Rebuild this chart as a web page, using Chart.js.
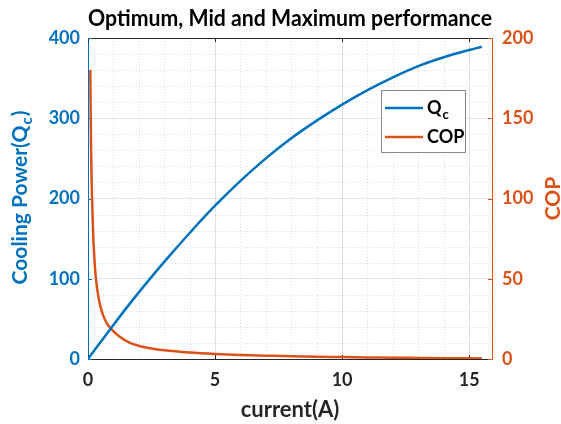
<!DOCTYPE html>
<html>
<head>
<meta charset="utf-8">
<script src="https://cdn.jsdelivr.net/npm/chart.js@4.4.1/dist/chart.umd.min.js"></script>
<style>
  html, body { margin: 0; padding: 0; background: #fff; }
</style>
</head>
<body>
<canvas id="perf" width="561" height="424"></canvas>
<script>
// values
const currentQc = [0, 1, 2, 3, 4, 5, 6, 7, 8, 9, 10, 11, 12, 13, 14, 15, 15.5];
const qcValues = [0, 42.5, 83, 121, 157, 191, 222, 250, 275, 297, 317, 335, 351, 365, 376, 385, 389];

const currentCop = [0.09, 0.12, 0.16, 0.2, 0.25, 0.3, 0.4, 0.5, 0.6, 0.75, 0.93, 1.25, 1.65, 2, 2.5, 3, 4, 5, 6, 7, 8, 9, 10, 11, 12, 13, 14, 15, 15.5];
const copValues = [180, 132, 100, 79, 63, 52, 39.5, 32, 27, 22, 18.5, 13.8, 10, 8.2, 6.5, 5.4, 4, 3.1, 2.5, 2.1, 1.7, 1.4, 1.2, 1.0, 0.8, 0.65, 0.5, 0.4, 0.35];

const xTicks = [0, 5, 10, 15];
const qcTicks = [0, 100, 200, 300, 400];
const copTicks = [0, 50, 100, 150, 200];

const BLUE = '#0072BD';
const ORANGE = '#D95319';
const DARK = '#262626';
const FONT = 'Lato';

const xMinorStep = 1;
const yMinorStep = 20;

function toPoints(xs, ys) {
  return xs.map((x, i) => ({x: x, y: ys[i]}));
}

function setTicks(list) {
  return function(scale) {
    scale.ticks = list.map(v => ({value: v}));
  };
}

// minor dotted grid, top box line, inward tick marks
const gridExtras = {
  id: 'gridExtras',
  beforeDatasetsDraw(chart) {
    const {ctx, chartArea: a, scales} = chart;
    const x = scales.x, y = scales.y, y1 = scales.y1;
    ctx.save();
    ctx.lineWidth = 1;
    ctx.setLineDash([1, 2]);
    ctx.strokeStyle = 'rgba(38,38,38,0.16)';
    for (let v = x.min; v <= x.max; v += xMinorStep) {
      if (xTicks.includes(v)) continue;
      const px = Math.round(x.getPixelForValue(v)) + 0.5;
      ctx.beginPath(); ctx.moveTo(px, a.top); ctx.lineTo(px, a.bottom); ctx.stroke();
    }
    ctx.strokeStyle = 'rgba(0,114,189,0.18)';
    for (let v = y.min; v <= y.max; v += yMinorStep) {
      if (qcTicks.includes(v)) continue;
      const py = Math.round(y.getPixelForValue(v)) + 0.5;
      ctx.beginPath(); ctx.moveTo(a.left, py); ctx.lineTo(a.right, py); ctx.stroke();
    }
    ctx.setLineDash([]);
    // top edge of the box
    ctx.strokeStyle = DARK;
    ctx.beginPath(); ctx.moveTo(a.left, a.top + 0.5); ctx.lineTo(a.right, a.top + 0.5); ctx.stroke();
    // tick marks pointing inward
    const len = 4;
    xTicks.forEach(v => {
      const px = Math.round(x.getPixelForValue(v)) + 0.5;
      ctx.beginPath();
      ctx.moveTo(px, a.bottom); ctx.lineTo(px, a.bottom - len);
      ctx.moveTo(px, a.top); ctx.lineTo(px, a.top + len);
      ctx.stroke();
    });
    ctx.strokeStyle = BLUE;
    qcTicks.forEach(v => {
      const py = Math.round(y.getPixelForValue(v)) + 0.5;
      ctx.beginPath(); ctx.moveTo(a.left, py); ctx.lineTo(a.left + len, py); ctx.stroke();
    });
    ctx.strokeStyle = ORANGE;
    copTicks.forEach(v => {
      const py = Math.round(y1.getPixelForValue(v)) + 0.5;
      ctx.beginPath(); ctx.moveTo(a.right, py); ctx.lineTo(a.right - len, py); ctx.stroke();
    });
    ctx.restore();
  }
};

// y axis titles (with subscript) and the legend box
const labelsAndLegend = {
  id: 'labelsAndLegend',
  afterDraw(chart) {
    const {ctx, chartArea: a} = chart;
    const big = 'bold 21px ' + FONT;
    const small = 'bold 15px ' + FONT;
    const midY = (a.top + a.bottom) / 2;

    // left title: Cooling Power(Q_c)
    ctx.save();
    ctx.translate(20, midY);
    ctx.rotate(-Math.PI / 2);
    ctx.fillStyle = BLUE;
    ctx.textBaseline = 'middle';
    ctx.font = big;
    const p1 = 'Cooling Power(Q', p3 = ')';
    const w1 = ctx.measureText(p1).width, w3 = ctx.measureText(p3).width;
    ctx.font = small;
    const w2 = ctx.measureText('c').width;
    let sx = -(w1 + w2 + w3) / 2;
    ctx.font = big;
    ctx.fillText(p1, sx, 0);
    ctx.font = small;
    ctx.fillText('c', sx + w1 + 1, 7);
    ctx.font = big;
    ctx.fillText(p3, sx + w1 + w2 + 2, 0);
    ctx.restore();

    // right title: COP
    ctx.save();
    ctx.translate(553, midY);
    ctx.rotate(-Math.PI / 2);
    ctx.fillStyle = ORANGE;
    ctx.textAlign = 'center';
    ctx.textBaseline = 'middle';
    ctx.font = big;
    ctx.fillText('COP', 0, 0);
    ctx.restore();

    // legend
    const bx = 381, by = 90, bw = 84, bh = 62;
    ctx.save();
    ctx.fillStyle = '#fff';
    ctx.fillRect(bx, by, bw, bh);
    ctx.strokeStyle = '#8a8a8a';
    ctx.lineWidth = 1;
    ctx.strokeRect(bx + 0.5, by + 0.5, bw, bh);
    const rows = [
      {color: BLUE, y: by + 18},
      {color: ORANGE, y: by + 47}
    ];
    rows.forEach(r => {
      ctx.strokeStyle = r.color;
      ctx.lineWidth = 2.5;
      ctx.beginPath(); ctx.moveTo(bx + 4, r.y); ctx.lineTo(bx + 42, r.y); ctx.stroke();
    });
    ctx.fillStyle = '#000';
    ctx.textBaseline = 'middle';
    ctx.font = 'bold 18px ' + FONT;
    ctx.fillText('Q', bx + 46, rows[0].y);
    const qw = ctx.measureText('Q').width;
    ctx.font = 'bold 13px ' + FONT;
    ctx.fillText('c', bx + 47 + qw, rows[0].y + 7);
    ctx.font = 'bold 18px ' + FONT;
    ctx.fillText('COP', bx + 46, rows[1].y);
    ctx.restore();
  }
};

const perfChart = new Chart(
  document.getElementById('perf'),
  {
    type: 'line',
    data: {
      datasets: [
        {
          label: 'Qc',
          data: toPoints(currentQc, qcValues),
          borderColor: BLUE,
          borderWidth: 2.5,
          pointRadius: 0,
          cubicInterpolationMode: 'monotone',
          yAxisID: 'y'
        },
        {
          label: 'COP',
          data: toPoints(currentCop, copValues),
          borderColor: ORANGE,
          borderWidth: 2.5,
          pointRadius: 0,
          cubicInterpolationMode: 'monotone',
          yAxisID: 'y1'
        }
      ]
    },
    options: {
      responsive: false,
      animation: false,
      layout: {padding: 0},
      plugins: {
        legend: {display: false},
        tooltip: {enabled: false},
        title: {
          display: true,
          fullSize: false,
          text: 'Optimum, Mid and Maximum performance',
          color: '#000',
          font: {family: FONT, size: 22, weight: 'bold'},
          padding: {top: 6, bottom: 5.6}
        }
      },
      scales: {
        x: {
          type: 'linear',
          min: 0,
          max: 15.9,
          afterBuildTicks: setTicks(xTicks),
          afterFit: s => { s.height = 65; },
          grid: {color: 'rgba(38,38,38,0.15)', drawTicks: false},
          border: {color: DARK},
          ticks: {color: DARK, padding: 10, font: {family: FONT, size: 18, weight: 'bold'}},
          title: {
            display: true,
            text: 'current(A)',
            color: DARK,
            font: {family: FONT, size: 22, weight: 'bold'},
            padding: {top: 0, bottom: 1}
          }
        },
        y: {
          position: 'left',
          min: 0,
          max: 400,
          afterBuildTicks: setTicks(qcTicks),
          afterFit: s => { s.width = 88; },
          grid: {color: 'rgba(0,114,189,0.15)', drawTicks: false},
          border: {color: BLUE},
          ticks: {color: BLUE, padding: 8, font: {family: FONT, size: 18, weight: 'bold'}}
        },
        y1: {
          position: 'right',
          min: 0,
          max: 200,
          afterBuildTicks: setTicks(copTicks),
          afterFit: s => { s.width = 69; },
          grid: {drawOnChartArea: false, drawTicks: false},
          border: {color: ORANGE},
          ticks: {color: ORANGE, padding: 10, font: {family: FONT, size: 18, weight: 'bold'}}
        }
      }
    },
    plugins: [gridExtras, labelsAndLegend]
  }
);
</script>
</body>
</html>
